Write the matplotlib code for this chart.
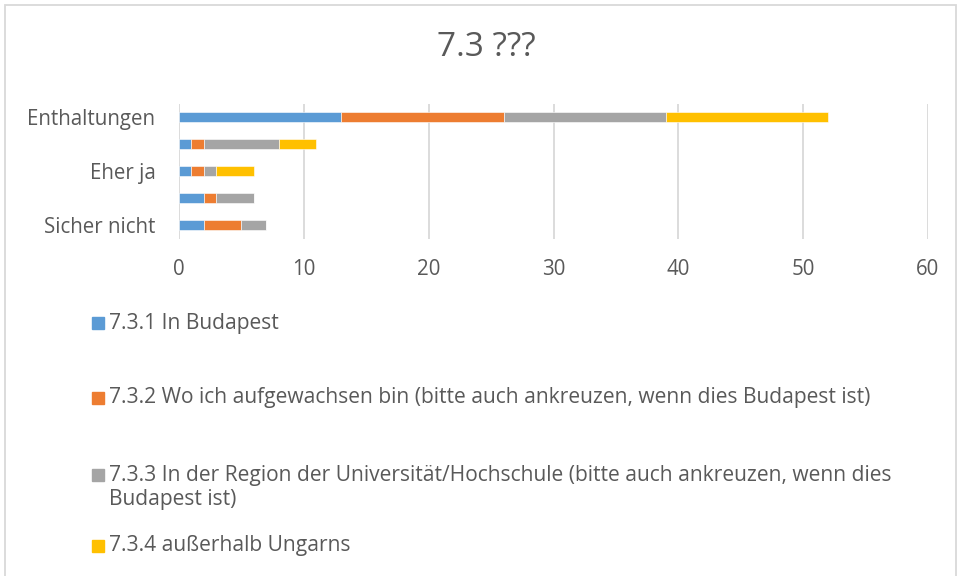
import matplotlib.pyplot as plt
from matplotlib.patches import Rectangle
import numpy as np

plt.rcParams['font.family'] = ['Open Sans', 'DejaVu Sans']

# answer categories, bottom to top (only every second one gets a tick label)
categories = ['Sicher nicht', 'Eher nicht', 'Eher ja', 'Sicher ja', 'Enthaltungen']
shown = [True, False, True, False, True]

series_names = [
    '7.3.1 In Budapest',
    '7.3.2 Wo ich aufgewachsen bin (bitte auch ankreuzen, wenn dies Budapest ist)',
    '7.3.3 In der Region der Universität/Hochschule (bitte auch ankreuzen, wenn dies\nBudapest ist)',
    '7.3.4 außerhalb Ungarns',
]
budapest = [2, 2, 1, 1, 13]
aufgewachsen = [3, 1, 1, 1, 13]
region = [2, 3, 1, 6, 13]
ausland = [0, 0, 3, 3, 13]

colors = ['#5B9BD5', '#ED7D31', '#A5A5A5', '#FFC000']
txt = '#595959'

fig = plt.figure(figsize=(9.6, 5.76), dpi=100)
ax = fig.add_axes([179 / 960, 1 - 238.5 / 576, 749 / 960, 135 / 576])

y = np.arange(len(categories))
left = np.zeros(len(categories))
for vals, col in zip([budapest, aufgewachsen, region, ausland], colors):
    ax.barh(y, vals, left=left, height=0.4, color=col, edgecolor='white',
            linewidth=0.4, zorder=3)
    left += np.array(vals)

ax.set_xlim(0, 60)
ax.set_ylim(-0.5, len(categories) - 0.5)
ax.set_xticks(range(0, 61, 10))
ax.set_yticks(y)
ax.set_yticklabels([c if s else '' for c, s in zip(categories, shown)])
ax.tick_params(axis='both', length=0, labelsize=14.8, labelcolor=txt)
ax.tick_params(axis='y', pad=17)
ax.tick_params(axis='x', pad=15)
ax.grid(axis='x', color='#D9D9D9', linewidth=1.3, zorder=0)
for s in ax.spines.values():
    s.set_visible(False)

fig.text(486 / 960, 1 - 48 / 576, '7.3 ???', ha='center', va='center',
         fontsize=24, color=txt)

# legend entries stacked below the plot, one text line per row
entry_y = [323, 398, 475, 546]
for name, col, yy in zip(series_names, colors, entry_y):
    fig.add_artist(Rectangle((92 / 960, 1 - (yy + 6) / 576), 12 / 960, 12 / 576,
                             transform=fig.transFigure, color=col))
    for i, line in enumerate(name.split('\n')):
        fig.text(109 / 960, 1 - (yy + 25 * i) / 576, line, ha='left',
                 va='center', fontsize=15.1, color=txt)

# chart frame
fig.add_artist(Rectangle((4.5 / 960, -0.01), 951 / 960, 1 - 4.5 / 576 + 0.01,
                         transform=fig.transFigure, fill=False,
                         edgecolor='#D9D9D9', linewidth=1.3))

fig.savefig('out.png')
plt.close(fig)
